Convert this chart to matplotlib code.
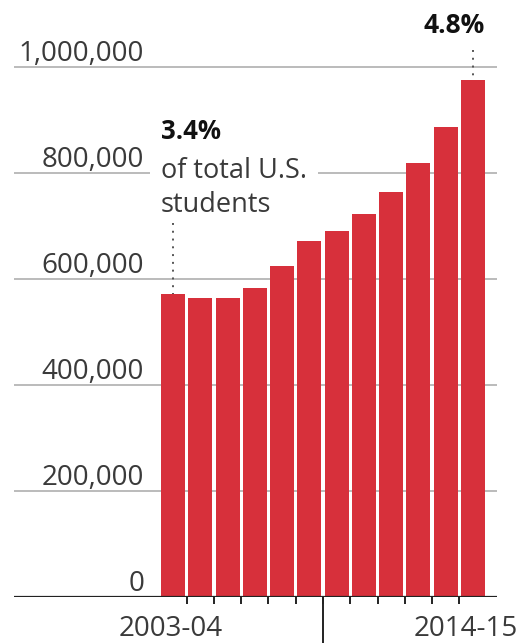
import matplotlib
matplotlib.use("Agg")
import matplotlib.pyplot as plt
from matplotlib import transforms

plt.rcParams['font.family'] = ['Open Sans', 'DejaVu Sans']

years = ['2003-04', '2004-05', '2005-06', '2006-07', '2007-08', '2008-09',
         '2009-10', '2010-11', '2011-12', '2012-13', '2013-14', '2014-15']
students = [572509, 565039, 564766, 582984, 623805, 671616,
            690923, 723277, 764495, 819644, 886052, 974926]
y_ticks = [0, 200000, 400000, 600000, 800000, 1000000]
y_tick_labels = ['0', '200,000', '400,000', '600,000', '800,000', '1,000,000']
share_first = '3.4%'
share_last = '4.8%'

RED = '#d7303b'
GRID = '#a8a8a8'
TXT = '#3a3a3a'

fig = plt.figure(figsize=(5.21, 6.43), dpi=100)
W, H = 521, 643
ax = fig.add_axes([14 / W, (H - 597) / H, 483 / W, 583 / H])

x = list(range(len(years)))
ax.bar(x, students, width=0.88, color=RED, zorder=3)

ax.set_xlim(-5.83, 11.88)
ax.set_ylim(0, 1.1e6)

for s in ax.spines.values():
    s.set_visible(False)

# gridlines
for v in y_ticks[1:]:
    ax.axhline(v, color=GRID, lw=1.1, zorder=1)
ax.axhline(0, color='#222222', lw=1.6, zorder=4)

# y labels above gridlines
for v, lab in zip(y_ticks, y_tick_labels):
    ax.annotate(lab, xy=(-1.06, v), xytext=(0, 4.5), textcoords='offset points',
                ha='right', va='baseline', fontsize=20, color=TXT, zorder=2)

# x ticks
ax.set_yticks([])
ax.set_xticks([0, len(years) - 1])
ax.set_xticklabels([years[0], years[-1]], fontsize=20, color=TXT)
ax.tick_params(axis='x', which='major', length=0, pad=13)
lbls = ax.get_xticklabels()
lbls[0].set_transform(lbls[0].get_transform() +
                      transforms.ScaledTranslation(-2 / 100, 0, fig.dpi_scale_trans))
lbls[-1].set_transform(lbls[-1].get_transform() +
                       transforms.ScaledTranslation(-7 / 100, 0, fig.dpi_scale_trans))
ax.set_xticks([i + 0.5 for i in range(len(years) - 1)], minor=True)
ax.tick_params(axis='x', which='minor', length=5, width=1.4, color='#222222')
sec = ax.secondary_xaxis('bottom')
sec.set_xticks([5.5])
sec.set_xticklabels([''])
sec.tick_params(length=34, width=1.4, color='#222222')
for s in sec.spines.values():
    s.set_visible(False)

# annotations
ax.plot([0, 0], [705000, students[0]], ls=(0, (1, 3)), color='#555555', lw=1.4, zorder=6)
ax.text(-0.44, 864000, share_first, fontsize=18.5, fontweight='bold', color='#111111',
        ha='left', va='baseline', zorder=5)
ax.text(-0.44, 726000, 'of total U.S.\nstudents', fontsize=19.5, color=TXT,
        ha='left', va='baseline', linespacing=1.32, zorder=5,
        bbox=dict(facecolor='white', edgecolor='none', boxstyle='square,pad=0.4'))
ax.plot([11, 11], [1032000, students[-1]], ls=(0, (1, 3)), color='#555555', lw=1.4, zorder=6)
ax.text(11.44, 1064000, share_last, fontsize=19, fontweight='bold', color='#111111',
        ha='right', va='baseline', zorder=5)

fig.savefig('out.png', dpi=100)
